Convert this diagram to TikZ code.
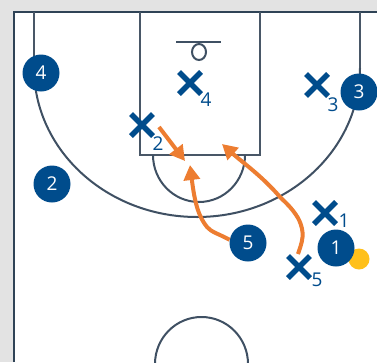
\documentclass[tikz,border=0pt]{standalone}
\usepackage{fontspec}
\setmainfont{Open Sans}
\usetikzlibrary{arrows.meta}
\definecolor{courtline}{HTML}{3F5063}
\definecolor{frameline}{HTML}{2F4356}
\definecolor{bandgray}{HTML}{E3E3E3}
\definecolor{teamblue}{HTML}{004C8C}
\definecolor{runorange}{HTML}{ED7D31}
\definecolor{ballyellow}{HTML}{FFC01A}
\tikzset{
  x=1pt,y=-1pt,
  court/.style={draw=courtline,line width=2pt},
  lane/.style={draw=courtline!85!gray,line width=2.3pt},
  player/.style={circle,fill=teamblue,text=white,minimum size=37pt,inner sep=0pt,font=\fontsize{19}{19}\selectfont},
  defmark/.style={draw=teamblue,line width=5.5pt},
  deflabel/.style={text=teamblue,inner sep=0pt,font=\fontsize{19}{19}\selectfont},
  run/.style={draw=runorange,line width=4pt,-{Triangle[length=15pt,width=16pt]}},
}
\newcommand{\defender}[3]{%
  \coordinate (x#1) at (#2,#3);
  \draw[defmark] (#2-11,#3-11) -- (#2+11,#3+11) (#2-11,#3+11) -- (#2+11,#3-11);
}
\begin{document}
\begin{tikzpicture}
\useasboundingbox (0,0) rectangle (377,362);
\fill[bandgray] (0,0) rectangle (377,362);
\fill[white] (14,12) rectangle (377,362);
\draw[draw=frameline,line width=2.3pt] (14,362) -- (14,12) -- (377,12);
% court
\draw[lane] (34,12) -- (34,68);
\draw[lane] (360,12) -- (360,68);
\draw[court] (34,68) arc[start angle=180,end angle=360,x radius=163,y radius=-149];
\draw[lane] (140,12) -- (140,155) -- (260,155) -- (260,12);
\draw[court] (153,155) arc[start angle=180,end angle=360,x radius=46,y radius=-47];
\draw[court] (176,42) -- (221,42);
\draw[court] (199,52) ellipse[x radius=7,y radius=8];
\begin{scope}
\clip (0,0) rectangle (377,362);
\draw[court] (201.5,364) ellipse[x radius=46.5,y radius=47];
\end{scope}
% ball and players
\node[circle,fill=ballyellow,minimum size=21pt,inner sep=0pt] (ball) at (359,259) {};
\node[player] (p4) at (41,73) {4};
\node[player] (p3) at (359,92) {3};
\node[player] (p2) at (52,184) {2};
\node[player] (p5) at (248,243) {5};
\node[player] (p1) at (336,248) {1};
% defenders
\defender{a}{142}{125}
\defender{b}{190}{83}
\defender{c}{317}{85}
\defender{d}{325}{213}
\defender{e}{299}{267}
\node[deflabel] (l2) at (158,144) {2};
\node[deflabel] (l4) at (206,100) {4};
\node[deflabel] (l3) at (333,105) {3};
\node[deflabel] (l1) at (344,221) {1};
\node[deflabel] (l5) at (317,280) {5};
% runs
\coordinate (a2s) at (159,127);
\coordinate (a2e) at (185,161);
\coordinate (a5e) at (190,165);
\coordinate (a1s) at (298,254);
\coordinate (a1e) at (222,144);
\draw[run] (a2s) -- (a2e);
\draw[run] (p5.170) .. controls (219,234) and (211,232) .. (207,227) .. controls (199,217) and (195,205) .. (a5e);
\draw[run] (a1s) .. controls (302,242) and (306,233) .. (298,218) .. controls (292,208) and (286,203) .. (280,197) .. controls (262,176) and (242,162) .. (a1e);
\end{tikzpicture}
\end{document}
